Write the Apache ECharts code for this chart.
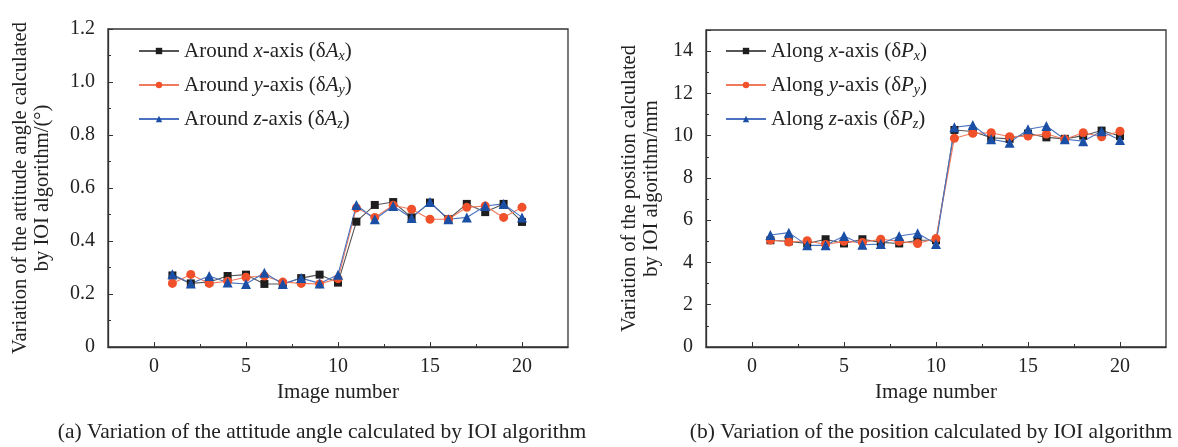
<!DOCTYPE html>
<html><head><meta charset="utf-8">
<script src="https://cdn.jsdelivr.net/npm/echarts@6/dist/echarts.min.js"></script>
<style>html,body{margin:0;padding:0;background:#fff}#c{width:1178px;height:447px}</style>
</head><body><div id="c"></div>
<script>
const imageNo = [1,2,3,4,5,6,7,8,9,10,11,12,13,14,15,16,17,18,19,20];
const xTicks = [0,5,10,15,20];
const xMinorTicks = [2.5,7.5,12.5,17.5];
// (a) attitude angle variation (deg)
const dAx = [0.27,0.24,0.245,0.268,0.273,0.238,0.238,0.26,0.273,0.243,0.473,0.536,0.547,0.489,0.545,0.482,0.54,0.509,0.54,0.472];
const dAy = [0.24,0.274,0.24,0.248,0.263,0.268,0.245,0.24,0.238,0.258,0.525,0.489,0.535,0.52,0.482,0.482,0.527,0.532,0.489,0.527];
const dAz = [0.275,0.24,0.268,0.243,0.238,0.28,0.238,0.26,0.24,0.273,0.536,0.482,0.532,0.487,0.547,0.482,0.489,0.532,0.54,0.489];
// (b) position variation (mm)
const dPx = [5.05,5.0,4.9,5.1,4.9,5.1,4.95,4.9,5.05,5.05,10.27,10.2,9.9,9.85,10.1,9.92,9.85,10.0,10.24,9.98];
const dPy = [5.06,4.97,5.03,4.85,5.0,4.95,5.1,5.0,4.9,5.13,9.88,10.11,10.14,9.95,9.98,10.08,9.83,10.14,9.95,10.21];
const dPz = [5.30,5.41,4.81,4.81,5.25,4.84,4.87,5.25,5.38,4.87,10.4,10.5,9.83,9.67,10.3,10.46,9.83,9.74,10.21,9.8];

const serif = 'Liberation Serif';
const txt = '#222';
const cBlack = '#1e1e1e', cRed = '#f0512a', cBlue = '#1b4fa6';
const lBlack = '#555', lRed = '#f27a5c', lBlue = '#4a72c0';

const legendLabels = {
  'Ax': '{t|Around }{i|x}{t|-axis (δ}{i|A}{s|x}{t|)}',
  'Ay': '{t|Around }{i|y}{t|-axis (δ}{i|A}{s|y}{t|)}',
  'Az': '{t|Around }{i|z}{t|-axis (δ}{i|A}{s|z}{t|)}',
  'Px': '{t|Along }{i|x}{t|-axis (δ}{i|P}{s|x}{t|)}',
  'Py': '{t|Along }{i|y}{t|-axis (δ}{i|P}{s|y}{t|)}',
  'Pz': '{t|Along }{i|z}{t|-axis (δ}{i|P}{s|z}{t|)}'
};
const rich = {
  t: {fontFamily: serif, fontSize: 21, color: txt, lineHeight: 24},
  i: {fontFamily: serif, fontSize: 21, fontStyle: 'italic', color: txt, lineHeight: 24},
  s: {fontFamily: serif, fontSize: 14, fontStyle: 'italic', color: txt, lineHeight: 24, verticalAlign: 'bottom', padding: [9,0,0,0]}
};

function pairs(arr){ return imageNo.map((x,i)=>[x,arr[i]]); }

function mkSeries(name, arr, idx, color, lcolor, symbol, size){
  return {
    name, type: 'line', xAxisIndex: idx, yAxisIndex: idx,
    data: pairs(arr), symbol, symbolSize: size,
    itemStyle: {color}, lineStyle: {color: lcolor, width: 1.1},
    emphasis: {disabled: true}, animation: false
  };
}

function mainX(gi){
  return {
    type: 'value', gridIndex: gi, min: -2.5, max: 22.5,
    name: 'Image number', nameLocation: 'middle', nameGap: 35,
    nameTextStyle: {fontFamily: serif, fontSize: 21, color: txt},
    axisLine: {onZero: false, lineStyle: {color: '#333', width: 1.3}},
    axisTick: {inside: true, length: 5, customValues: xTicks, lineStyle: {color: '#333'}},
    axisLabel: {customValues: xTicks, fontFamily: serif, fontSize: 20, color: txt, margin: 10},
    splitLine: {show: false}
  };
}
function minorX(gi){
  return {
    type: 'value', gridIndex: gi, min: -2.5, max: 22.5, position: 'bottom',
    axisLine: {show: false, onZero: false},
    axisTick: {inside: true, length: 3, customValues: xMinorTicks, lineStyle: {color: '#333'}},
    axisLabel: {show: false}, splitLine: {show: false}
  };
}

const option = {
  backgroundColor: '#fff',
  animation: false,
  grid: [
    {left: 108, right: 610, top: 29, bottom: 100, show: true, borderColor: '#333', borderWidth: 1.3},
    {left: 706, right: 12, top: 30, bottom: 100, show: true, borderColor: '#333', borderWidth: 1.3}
  ],
  xAxis: [mainX(0), mainX(1), minorX(0), minorX(1)],
  yAxis: [
    {
      type: 'value', gridIndex: 0, min: 0, max: 1.2, interval: 0.2,
      name: 'Variation of the attitude angle calculated\nby IOI algorithm/(°)',
      nameLocation: 'middle', nameGap: 54,
      nameTextStyle: {fontFamily: serif, fontSize: 20.5, color: txt, lineHeight: 22},
      axisLine: {onZero: false, lineStyle: {color: '#333', width: 1.3}},
      axisTick: {inside: true, length: 5, lineStyle: {color: '#333'}},
      minorTick: {show: true, splitNumber: 2, length: 3, lineStyle: {color: '#333'}},
      axisLabel: {fontFamily: serif, fontSize: 20, color: txt, margin: 13,
        formatter: v => v === 0 ? '0' : v.toFixed(1)},
      splitLine: {show: false}, minorSplitLine: {show: false}
    },
    {
      type: 'value', gridIndex: 1, min: 0, max: 15, interval: 2,
      name: 'Variation of the position calculated\nby IOI algorithm/mm',
      nameLocation: 'middle', nameGap: 43,
      nameTextStyle: {fontFamily: serif, fontSize: 20.5, color: txt, lineHeight: 22},
      axisLine: {onZero: false, lineStyle: {color: '#333', width: 1.3}},
      axisTick: {inside: true, length: 5, lineStyle: {color: '#333'}},
      minorTick: {show: true, splitNumber: 2, length: 3, lineStyle: {color: '#333'}},
      axisLabel: {fontFamily: serif, fontSize: 20, color: txt, margin: 13, showMaxLabel: false},
      splitLine: {show: false}, minorSplitLine: {show: false}
    }
  ],
  legend: [
    {
      data: ['Ax','Ay','Az'], orient: 'vertical', left: 133, top: 35,
      itemWidth: 40, itemHeight: 8, itemGap: 11,
      formatter: n => legendLabels[n], textStyle: {rich}
    },
    {
      data: ['Px','Py','Pz'], orient: 'vertical', left: 720, top: 35,
      itemWidth: 40, itemHeight: 8, itemGap: 11,
      formatter: n => legendLabels[n], textStyle: {rich}
    }
  ],
  graphic: [
    {type: 'text', x: 322, y: 432, style: {text: '(a) Variation of the attitude angle calculated by IOI algorithm',
      fontFamily: serif, fontSize: 21.5, fill: txt, textAlign: 'center', textVerticalAlign: 'middle'}},
    {type: 'text', x: 931, y: 432, style: {text: '(b) Variation of the position calculated by IOI algorithm',
      fontFamily: serif, fontSize: 21.5, fill: txt, textAlign: 'center', textVerticalAlign: 'middle'}}
  ],
  series: [
    mkSeries('Ax', dAx, 0, cBlack, lBlack, 'rect', 8),
    mkSeries('Ay', dAy, 0, cRed, lRed, 'circle', 9),
    mkSeries('Az', dAz, 0, cBlue, lBlue, 'triangle', 10),
    mkSeries('Px', dPx, 1, cBlack, lBlack, 'rect', 8),
    mkSeries('Py', dPy, 1, cRed, lRed, 'circle', 9),
    mkSeries('Pz', dPz, 1, cBlue, lBlue, 'triangle', 10)
  ]
};
const chart = echarts.init(document.getElementById('c'), null, {renderer: 'canvas'});
chart.setOption(option);
</script>
</body></html>
